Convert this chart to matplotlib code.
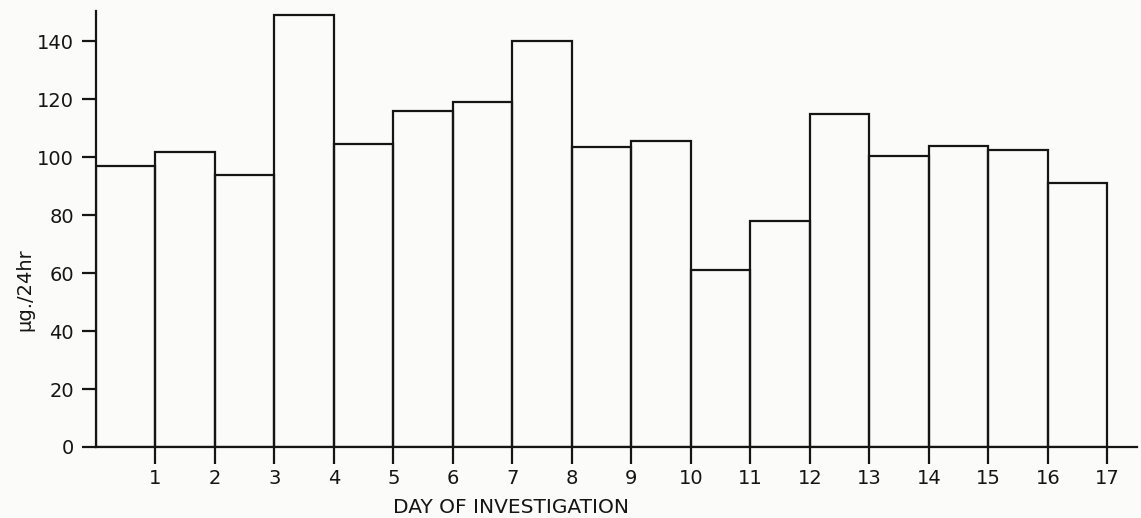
import matplotlib
matplotlib.use("Agg")
import matplotlib.pyplot as plt

days = list(range(0, 17))
values = [97, 102, 94, 149, 104.5, 116, 119, 140, 103.5, 105.5, 61, 78, 115, 100.5, 104, 102.5, 91]
xticks = list(range(1, 18))
yticks = list(range(0, 141, 20))

plt.rcParams['font.family'] = ['DejaVu Sans']

W, H = 1141, 518
fig = plt.figure(figsize=(W / 100, H / 100), dpi=100)
fig.patch.set_facecolor('#fbfbfa')
ax = fig.add_axes([96 / W, (H - 447) / H, (1137 - 96) / W, (447 - 11) / H])
ax.set_facecolor('#fbfbfa')

ink = '#151515'
ax.bar(days, values, width=1.0, align='edge', facecolor='none', edgecolor=ink, linewidth=1.6)

ax.set_xlim(0, 17.5)
ax.set_ylim(0, 150.5)
for s in ['top', 'right']:
    ax.spines[s].set_visible(False)
for s in ['left', 'bottom']:
    ax.spines[s].set_linewidth(1.6)
    ax.spines[s].set_color(ink)

ax.set_xticks(xticks)
ax.set_xticklabels([str(t) for t in xticks])
ax.set_yticks(yticks)
ax.set_yticklabels([str(t) for t in yticks])
ax.tick_params(axis='x', direction='out', length=12, width=1.6, color=ink, pad=4, labelsize=14, labelcolor=ink)
ax.tick_params(axis='y', direction='out', length=10, width=1.6, color=ink, pad=6, labelsize=14, labelcolor=ink)

ax.set_xlabel('DAY OF INVESTIGATION', fontsize=14.5, color=ink)
ax.xaxis.set_label_coords((511 - 96) / (1137 - 96), -(498 - 447) / (447 - 11))
ax.set_ylabel('µg./24hr', fontsize=14, color=ink)
ax.yaxis.set_label_coords(-(96 - 34) / (1137 - 96), (447 - 290) / (447 - 11))

fig.savefig('out.png', dpi=100, facecolor=fig.get_facecolor())
